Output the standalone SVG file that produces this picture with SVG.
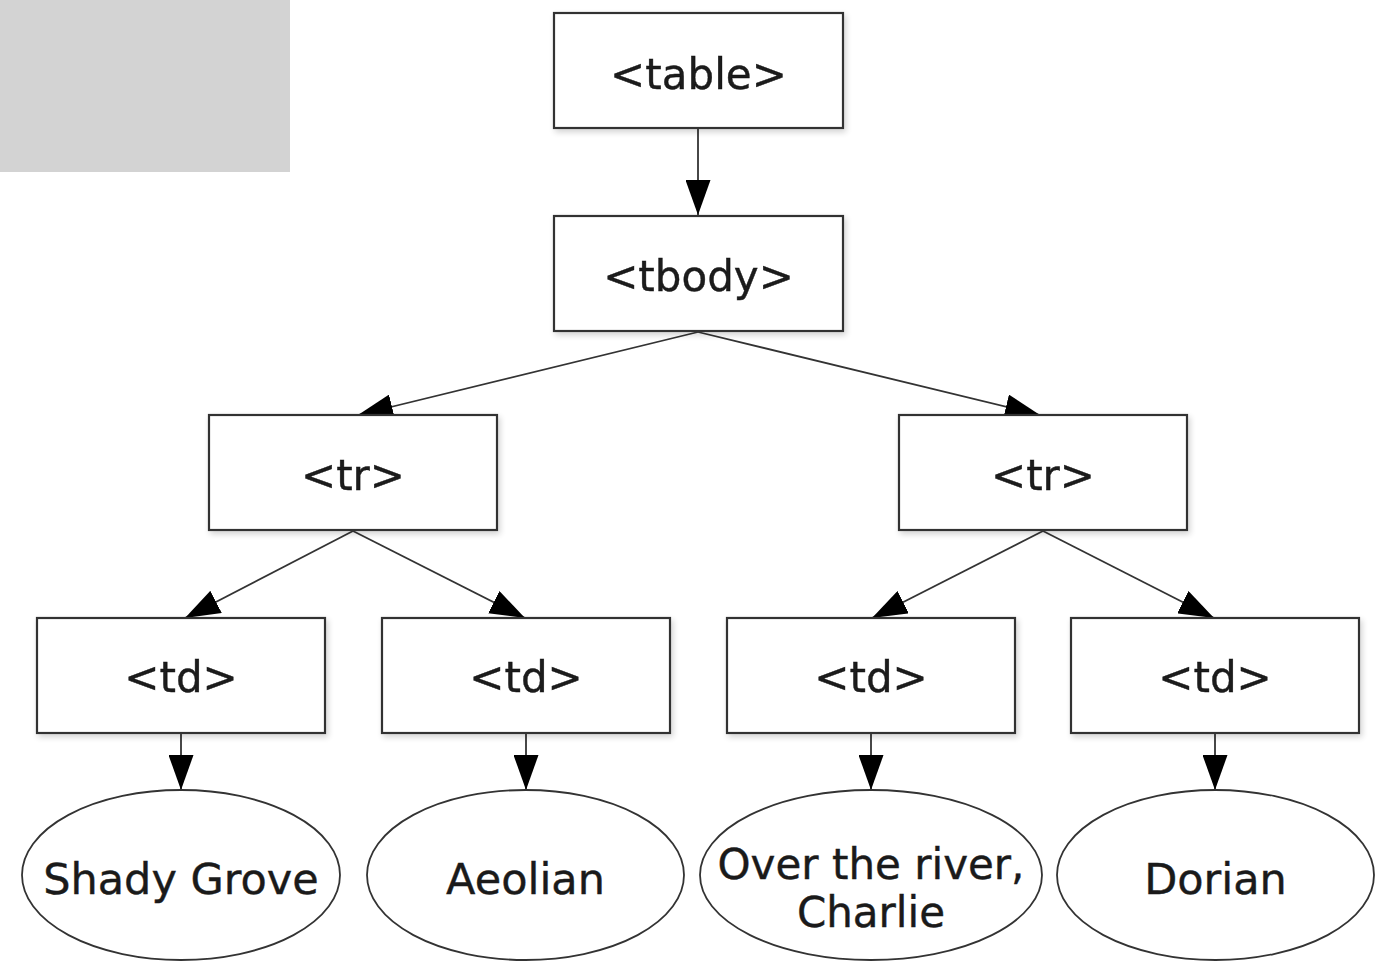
<svg xmlns="http://www.w3.org/2000/svg" width="1387" height="962" viewBox="0 0 1387 962">
<style>
.box{fill:#fff;stroke:#333;stroke-width:2.2}
.ell{fill:#fff;stroke:#333;stroke-width:1.8}
.lbl{font-family:"DejaVu Sans","Liberation Sans",sans-serif;font-size:42px;fill:#1a1a1a;text-anchor:middle;stroke:#1a1a1a;stroke-width:0.4}
.big{font-size:43px}
.two{font-size:42px}
.edge{fill:none;stroke:#333;stroke-width:1.8;marker-end:url(#ah)}
</style>
<defs>
<marker id="ah" viewBox="0 0 35 25" refX="35" refY="12.5" markerWidth="35" markerHeight="25" markerUnits="userSpaceOnUse" orient="auto">
<path d="M0,0 L35,12.5 L0,25 Z" fill="#000"/>
</marker>
<filter id="sh" x="-10%" y="-10%" width="130%" height="130%">
<feGaussianBlur in="SourceAlpha" stdDeviation="3"/>
<feOffset dx="2" dy="3" result="b"/>
<feComponentTransfer><feFuncA type="linear" slope="0.18"/></feComponentTransfer>
<feMerge><feMergeNode/><feMergeNode in="SourceGraphic"/></feMerge>
</filter>
</defs>
<rect x="0" y="0" width="290" height="172" fill="#d3d3d3"/>
<g id="connectors">
<path class="edge" d="M698,129 L698,215"/>
<path class="edge" d="M698,332 L358,415"/>
<path class="edge" d="M698,332 L1040,415"/>
<path class="edge" d="M353,531 L185,618"/>
<path class="edge" d="M353,531 L525,618"/>
<path class="edge" d="M1043,531 L872,618"/>
<path class="edge" d="M1043,531 L1214,618"/>
<path class="edge" d="M181,734 L181,790"/>
<path class="edge" d="M526,734 L526,790"/>
<path class="edge" d="M871,734 L871,790"/>
<path class="edge" d="M1215,734 L1215,790"/>
</g>
<g id="n-table" filter="url(#sh)"><rect class="box" x="554" y="13" width="289" height="115"/><text class="lbl" x="698.5" y="89">&lt;table&gt;</text></g>
<g id="n-tbody" filter="url(#sh)"><rect class="box" x="554" y="216" width="289" height="115"/><text class="lbl" x="698.5" y="291">&lt;tbody&gt;</text></g>
<g id="n-tr1" filter="url(#sh)"><rect class="box" x="209" y="415" width="288" height="115"/><text class="lbl" x="353" y="490">&lt;tr&gt;</text></g>
<g id="n-tr2" filter="url(#sh)"><rect class="box" x="899" y="415" width="288" height="115"/><text class="lbl" x="1043" y="490">&lt;tr&gt;</text></g>
<g id="n-td1" filter="url(#sh)"><rect class="box" x="37" y="618" width="288" height="115"/><text class="lbl" x="181" y="692">&lt;td&gt;</text></g>
<g id="n-td2" filter="url(#sh)"><rect class="box" x="382" y="618" width="288" height="115"/><text class="lbl" x="526" y="692">&lt;td&gt;</text></g>
<g id="n-td3" filter="url(#sh)"><rect class="box" x="727" y="618" width="288" height="115"/><text class="lbl" x="871" y="692">&lt;td&gt;</text></g>
<g id="n-td4" filter="url(#sh)"><rect class="box" x="1071" y="618" width="288" height="115"/><text class="lbl" x="1215" y="692">&lt;td&gt;</text></g>
<g id="n-shady"><ellipse class="ell" cx="181" cy="875" rx="159" ry="85"/><text class="lbl big" x="181" y="894">Shady Grove</text></g>
<g id="n-aeolian"><ellipse class="ell" cx="525.5" cy="875" rx="158.5" ry="85"/><text class="lbl big" x="525.5" y="894">Aeolian</text></g>
<g id="n-over"><ellipse class="ell" cx="871" cy="875" rx="171" ry="85"/><text class="lbl two" x="871" y="879">Over the river,</text><text class="lbl two" x="871" y="927">Charlie</text></g>
<g id="n-dorian"><ellipse class="ell" cx="1215.5" cy="875" rx="158.5" ry="85"/><text class="lbl big" x="1215.5" y="894">Dorian</text></g>
</svg>
